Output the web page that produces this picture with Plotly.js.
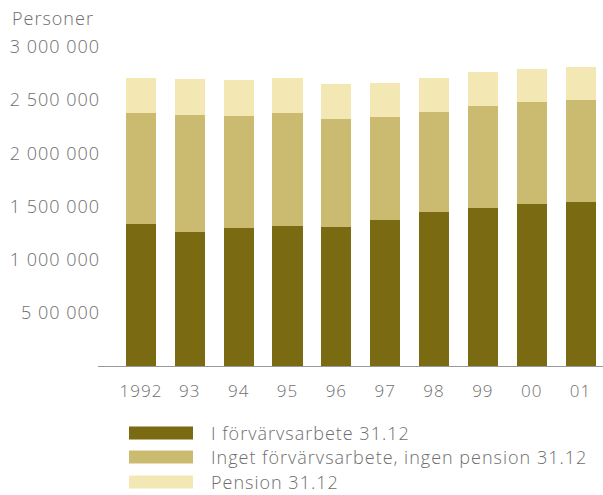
<!DOCTYPE html>
<html>
<head>
<meta charset="utf-8">
<script src="https://cdn.plot.ly/plotly-3.0.1.min.js"></script>
<style>html,body{margin:0;padding:0;background:#fff;}#chart{width:603px;height:495px;}
text{letter-spacing:1px;}</style>
</head>
<body>
<div id="chart"></div>
<script>
const years = ["1992", "93", "94", "95", "96", "97", "98", "99", "00", "01"];
const seriesNames = ["I förvärvsarbete 31.12", "Inget förvärvsarbete, ingen pension 31.12", "Pension 31.12"];
const employed = [1336000, 1263000, 1295000, 1317000, 1310000, 1371000, 1452000, 1484000, 1527000, 1543000];
const noWorkNoPension = [1041000, 1101000, 1060000, 1066000, 1011000, 969000, 940000, 962000, 957000, 957000];
const pension = [332000, 336000, 335000, 326000, 329000, 322000, 317000, 323000, 310000, 316000];
const yTickVals = [500000, 1000000, 1500000, 2000000, 2500000, 3000000];
const yTickText = ["5 00 000", "1 000 000", "1 500 000", "2 000 000", "2 500 000", "3 000 000"];
const colors = ["#7a6a12", "#cbbb70", "#f3e8b3"];

const seriesValues = [employed, noWorkNoPension, pension];
const font = "Open Sans, Noto Sans, sans-serif";
const textColor = "#6e6e6e";

const traces = seriesValues.map((vals, i) => ({
  type: "bar",
  x: years,
  y: vals,
  name: seriesNames[i],
  marker: {color: colors[i], line: {width: 0}},
  showlegend: false,
  hoverinfo: "x+y+name"
}));

// plot area geometry (px) used for legend placement
const L = 98, T = 47, W = 505, H = 319;
const px2x = p => (p - L) / W;
const py2y = p => (T + H - p) / H;

const shapes = [];
const annotations = [{
  text: "Personer", xref: "paper", yref: "paper",
  x: px2x(10), y: py2y(18), xanchor: "left", yanchor: "middle",
  showarrow: false, font: {family: font, size: 18, weight: 300, color: textColor}
}];
const rowY = [433, 457, 482];
seriesNames.forEach((n, i) => {
  shapes.push({
    type: "rect", xref: "paper", yref: "paper",
    x0: px2x(129), x1: px2x(193), y0: py2y(rowY[i] + 6.5), y1: py2y(rowY[i] - 6.5),
    fillcolor: colors[i], line: {width: 0}
  });
  annotations.push({
    text: n, xref: "paper", yref: "paper",
    x: px2x(209), y: py2y(rowY[i]), xanchor: "left", yanchor: "middle",
    showarrow: false, font: {family: font, size: 18, weight: 300, color: textColor}
  });
});

const layout = {
  width: 603, height: 495,
  margin: {l: L, r: 603 - L - W, t: T, b: 495 - T - H, pad: 0},
  paper_bgcolor: "#fff", plot_bgcolor: "#fff",
  barmode: "stack", bargap: 0.385,
  font: {family: font, color: textColor},
  xaxis: {
    type: "category", range: [-0.88, 9.46],
    showline: true, linecolor: "#999", linewidth: 1,
    showgrid: false, zeroline: false, ticks: "",
    ticklabelstandoff: 10,
    tickfont: {family: font, size: 17, weight: 300, color: textColor},
    fixedrange: true
  },
  yaxis: {
    range: [0, 3000000], showline: false, showgrid: false, zeroline: false,
    tickmode: "array", tickvals: yTickVals, ticktext: yTickText, ticks: "",
    ticklabelstandoff: -3,
    tickfont: {family: font, size: 18, weight: 300, color: textColor},
    fixedrange: true
  },
  shapes: shapes,
  annotations: annotations
};

Plotly.newPlot("chart", traces, layout, {displayModeBar: false, staticPlot: true});
</script>
</body>
</html>
